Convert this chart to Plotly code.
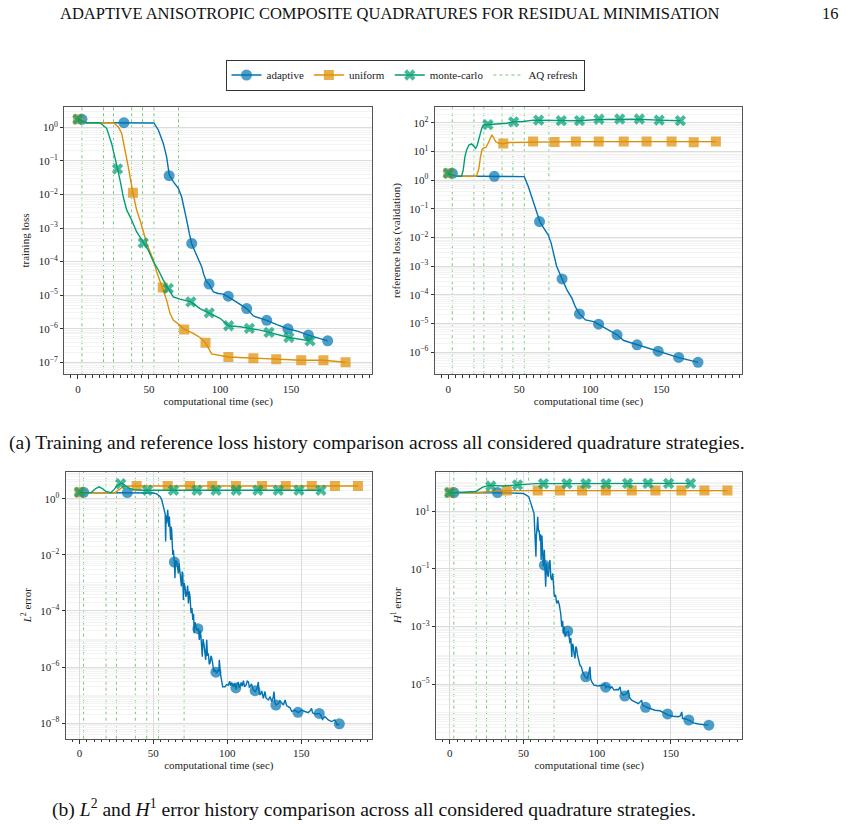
import plotly.graph_objects as go
import numpy as np

W, H = 846, 826
BLUE, ORANGE, GREEN = "#0173B2", "#DE8F05", "#029E73"
BLUE_M, ORANGE_M, GREEN_M = "rgba(1,115,178,0.7)", "rgba(222,143,5,0.72)", "rgba(2,158,115,0.72)"
REFRESH_C = "rgba(90,190,90,0.85)"
FONT = "Liberation Serif"

# ---------------- data (values stored as log10 of the plotted quantity) ----------------
aq_refresh_t = [2.8, 18.0, 25.0, 37.8, 45.5, 53.5, 70.8]

adapt_mark_t = [2.8, 32.4, 64.2, 80.1, 92.3, 105.8, 118.8, 132.9, 147.8, 162.2, 175.8]
unif_mark_t = [0.0, 38.7, 59.7, 74.8, 89.8, 105.9, 123.5, 139.6, 157.2, 172.8, 188.4]
mc_mark_t = [0.0, 27.9, 46.0, 63.6, 79.5, 92.4, 106.1, 120.7, 134.5, 148.5, 163.4]

# training loss
train_adapt_t = [0, 3, 6, 20, 40, 53.5, 56.6, 60.1, 62.4, 64.3, 67.1, 70.7, 73.0, 74.6, 76.5, 78.4, 80.0,
                 82.4, 84.7, 87.1, 88.7, 90.6, 92.3, 95.3, 98.8, 102.4, 105.9, 112, 118.8, 123.5, 132.9,
                 140, 147.7, 155, 162.2, 175.8]
train_adapt_log = [0.23, 0.19, 0.137, 0.137, 0.137, 0.13, -0.08, -0.48, -0.875, -1.42, -1.62, -1.82, -2.07,
                   -2.36, -2.76, -3.16, -3.46, -3.70, -3.90, -4.15, -4.40, -4.60, -4.67, -4.90, -4.95, -4.97,
                   -5.05, -5.22, -5.40, -5.62, -5.75, -5.88, -6.0, -6.08, -6.19, -6.36]
train_adapt_mark = [0.24, 0.137, -1.44, -3.46, -4.67, -5.03, -5.40, -5.75, -6.0, -6.19, -6.36]

train_unif_t = [0, 3, 6, 24.9, 28.4, 30.8, 33.1, 35.4, 38.7, 41.3, 43.7, 46.0, 48.4, 50.7, 53.1, 55.4, 57.7,
                59.4, 62.4, 64.8, 67.1, 70.7, 74.9, 81.2, 85.9, 89.9, 94.1, 105.9, 123.5, 139.4, 157.0, 172.5, 188.5]
train_unif_log = [0.24, 0.19, 0.137, 0.137, 0.02, -0.18, -0.63, -1.17, -1.95, -2.46, -2.76, -3.11, -3.46, -3.70,
                  -3.95, -4.30, -4.60, -4.77, -5.14, -5.54, -5.74, -5.86, -6.02, -6.14, -6.26, -6.42, -6.75,
                  -6.84, -6.88, -6.91, -6.94, -6.94, -7.0]
train_unif_mark = [0.24, -1.95, -4.77, -6.02, -6.42, -6.84, -6.88, -6.91, -6.94, -6.94, -7.0]

train_mc_t = [0, 3, 6, 15.5, 20.2, 23.7, 26.1, 27.9, 30.1, 31.9, 34.3, 37.8, 41.3, 46.0, 49.5, 53.1, 56.6,
              60.1, 63.6, 67.1, 71.8, 79.5, 85.9, 92.5, 100, 106.1, 114.1, 120.7, 128.2, 134.6, 148.5, 163.3]
train_mc_log = [0.24, 0.19, 0.137, 0.137, -0.03, -0.48, -0.97, -1.24, -1.67, -2.07, -2.46, -2.76, -3.11, -3.44,
                -3.66, -4.00, -4.25, -4.55, -4.80, -5.05, -5.12, -5.20, -5.40, -5.53, -5.69, -5.91, -5.94,
                -5.99, -6.04, -6.11, -6.26, -6.36]
train_mc_mark = [0.24, -1.24, -3.44, -4.80, -5.20, -5.53, -5.91, -5.99, -6.11, -6.26, -6.36]

# reference loss (validation)
ref_adapt_t = [0, 3, 6, 20, 40, 53.5, 56.3, 58.7, 61.1, 64.4, 67.2, 70.3, 72.4, 74.3, 76.2, 80.1, 83.6, 87.1,
               89.4, 92.3, 96.6, 102.4, 105.7, 112, 118.8, 123.5, 132.9, 140, 147.7, 155, 161.8, 175.9]
ref_adapt_log = [0.23, 0.18, 0.13, 0.13, 0.13, 0.12, -0.23, -0.58, -0.93, -1.45, -1.68, -1.91, -2.2, -2.55,
                 -3.0, -3.45, -3.84, -4.13, -4.42, -4.67, -4.88, -4.94, -5.03, -5.22, -5.40, -5.60, -5.75,
                 -5.86, -5.97, -6.08, -6.19, -6.36]
ref_adapt_mark = [0.235, 0.13, -1.45, -3.45, -4.67, -5.03, -5.40, -5.75, -5.97, -6.19, -6.36]

ref_unif_t = [0, 3, 6, 19.8, 21.5, 22.6, 23.8, 25.0, 26.5, 28.2, 29.3, 30.6, 31.6, 33.3, 35.1, 38.7, 43.4,
              52.8, 59.8, 74.4, 89.4, 105.6, 123.2, 139.6, 157, 172.5, 188.4]
ref_unif_log = [0.235, 0.17, 0.13, 0.13, 0.40, 0.80, 1.08, 1.12, 1.14, 1.30, 1.45, 1.57, 1.50, 1.34, 1.29,
                1.27, 1.31, 1.32, 1.34, 1.33, 1.34, 1.34, 1.34, 1.34, 1.34, 1.33, 1.34]
ref_unif_mark = [0.235, 1.27, 1.34, 1.33, 1.34, 1.34, 1.34, 1.34, 1.34, 1.32, 1.34]

ref_mc_t = [0, 3, 6, 9.3, 10.5, 11.7, 12.9, 14.5, 16.4, 18.1, 19.2, 20.4, 21.8, 23.5, 24.6, 27, 34.1, 41,
            45.7, 52.8, 59.8, 63.8, 79.3, 92.2, 106, 120.6, 134, 148, 163.4]
ref_mc_log = [0.235, 0.17, 0.13, 0.13, 0.355, 0.82, 1.05, 1.22, 1.26, 1.17, 1.10, 1.22, 1.51, 1.80, 1.92,
              1.93, 1.96, 1.98, 2.03, 2.04, 2.09, 2.09, 2.07, 2.07, 2.11, 2.12, 2.12, 2.09, 2.07]
ref_mc_mark = [0.235, 1.93, 2.03, 2.09, 2.07, 2.07, 2.12, 2.13, 2.13, 2.09, 2.07]

# L2 error
l2_adapt_t = [0, 3, 20, 40, 50, 52.3, 54.5, 55.7, 56.6, 57.2, 58.0, 58.3, 58.6, 59.0, 59.7, 60.1, 60.4, 60.8,
              61.3, 61.7, 62.0, 62.4, 62.8, 63.1, 63.5, 64.2, 64.6, 65.0, 65.8, 66.3, 66.9, 67.4, 68.0, 68.5,
              69.0, 69.5, 69.9, 70.3, 70.8, 71.4, 72.0, 72.6, 73.2, 73.7, 74.2, 74.8, 75.5, 76.1, 76.7, 77.2,
              77.6, 78.2, 78.9, 79.5, 80.5, 81.1, 81.7, 82.2, 83.1, 83.6, 84.3, 84.9, 85.4, 86.1, 86.6, 87.2,
              87.8, 88.3, 89.0, 89.5, 90.2, 91.0, 91.8, 92.8, 93.6, 94.3, 94.6, 95.0, 95.5, 96.9, 98.5, 99.5,
              100.8, 101.6, 102.2, 103.0, 103.6, 104.1, 105.0, 105.9, 106.7, 107.5, 108.0, 108.6, 109.4,
              110.2, 110.9, 111.7, 112.7, 113.5, 114.3, 114.9, 115.4, 116.4, 117.6, 119.0, 120.2, 121.0,
              121.5, 122.2, 123.3, 124.4, 125.5, 126.2, 127.8, 129.0, 130.0, 131.0, 131.6, 132.2, 133.0,
              134.6, 135.6, 136.8, 138.0, 139.1, 140.2, 141.3, 142.5, 143.6, 145.9, 148.0, 150.3, 152.5,
              154.8, 156.2, 157.0, 157.7, 159.3, 162.2, 163.3, 164.4, 166.0, 168.3, 170.5, 172.8, 174.4, 175.7]
l2_adapt_log = [0.22, 0.21, 0.21, 0.21, 0.20, 0.17, 0.08, -0.05, -0.25, -0.40, -0.55, -1.53, -0.6, -0.88,
                -0.40, -0.75, -1.0, -0.64, -1.1, -1.47, -1.0, -1.12, -1.6, -2.0, -1.83, -2.24, -2.83, -2.2,
                -2.24, -2.55, -2.66, -2.3, -2.54, -2.8, -3.13, -2.6, -2.66, -3.61, -3.0, -3.13, -3.5, -3.37,
                -3.1, -3.73, -3.3, -3.49, -4.08, -3.9, -4.32, -4.1, -4.79, -4.4, -4.56, -4.7, -4.62, -5.03,
                -4.7, -4.91, -5.63, -5.0, -5.21, -5.5, -5.74, -5.03, -5.6, -5.51, -5.9, -5.86, -5.6, -5.68,
                -6.0, -6.16, -6.1, -6.22, -6.1, -6.15, -5.74, -6.1, -6.28, -6.70, -6.70, -6.62, -6.64, -6.5,
                -6.66, -6.55, -6.68, -6.70, -6.58, -6.79, -6.6, -6.53, -6.72, -6.70, -6.55, -6.68, -6.48,
                -6.70, -6.64, -6.5, -6.53, -6.72, -6.70, -6.6, -6.82, -6.87, -6.75, -6.53, -6.9, -6.99,
                -6.85, -7.11, -6.87, -7.1, -7.17, -7.05, -7.23, -7.1, -6.87, -7.25, -7.35, -7.29, -7.2,
                -7.29, -7.35, -7.17, -7.38, -7.41, -7.45, -7.58, -7.54, -7.62, -7.53, -7.58, -7.62, -7.55,
                -7.47, -7.63, -7.67, -7.65, -7.72, -7.86, -7.76, -7.88, -7.94, -7.88, -8.06, -8.02]
l2_adapt_mark = [0.228, 0.216, -2.26, -4.63, -6.18, -6.74, -6.84, -7.35, -7.61, -7.65, -8.02]

l2_unif_t = [0, 3, 24, 27, 30, 38, 188.4]
l2_unif_log = [0.228, 0.21, 0.21, 0.33, 0.44, 0.45, 0.45]
l2_unif_mark = [0.228, 0.45, 0.45, 0.45, 0.45, 0.45, 0.45, 0.45, 0.45, 0.45, 0.45]

l2_mc_t = [0, 3, 8, 11, 13.3, 15.5, 17.8, 21.2, 23.5, 25.7, 28, 29.5, 31.4, 34, 37, 42, 163.4]
l2_mc_log = [0.228, 0.21, 0.22, 0.36, 0.42, 0.36, 0.26, 0.21, 0.33, 0.475, 0.55, 0.53, 0.45, 0.36, 0.32,
             0.30, 0.30]
l2_mc_mark = [0.228, 0.53, 0.30, 0.30, 0.30, 0.30, 0.30, 0.30, 0.30, 0.30, 0.30]

# H1 error
h1_adapt_t = [0, 3, 20, 40, 50, 53.6, 55.9, 57.2, 57.5, 58.2, 58.5, 58.8, 59.0, 59.7, 60.2, 60.6, 61.3, 61.7,
              62.0, 62.6, 63.1, 63.5, 64.2, 64.6, 65.1, 65.5, 65.8, 66.4, 66.9, 67.5, 68.0, 68.6, 69.2, 69.9,
              70.4, 71.0, 71.8, 72.6, 73.5, 74.4, 75.3, 76.0, 76.6, 77.1, 77.7, 78.2, 79.3, 80.5, 81.1, 81.6,
              82.2, 82.8, 83.4, 83.9, 84.5, 85.0, 85.6, 86.1, 86.7, 87.3, 88.4, 89.3, 90.2, 91.8, 93.4, 94.4,
              95.2, 95.6, 96.3, 97.9, 100.9, 102.5, 104.3, 105.2, 106.0, 107.4, 108.8, 110.0, 111.5, 113.3,
              114.5, 115.5, 116.3, 117.8, 120.0, 121.2, 121.8, 123.4, 125.7, 128.0, 129.3, 130.2, 130.8,
              132.5, 135.9, 139.3, 142.7, 146.1, 148.3, 151.7, 155.1, 156.5, 157.4, 158.0, 159.0, 162.6,
              165.3, 168.7, 172.1, 175.5]
h1_adapt_log = [1.65, 1.645, 1.64, 1.64, 1.62, 1.51, 1.16, 0.93, 0.58, -0.52, -0.58, 0.2, 0.24, 0.81, 0.3,
                0.35, -0.03, 0.2, -0.69, 0.16, -0.5, -0.92, -0.34, -0.9, -1.62, -0.9, -0.81, -1.2, -1.27, -0.9,
                -0.69, -1.3, -1.39, -1.16, -1.7, -1.97, -1.9, -2.2, -2.1, -2.26, -2.55, -3.01, -2.8, -3.24,
                -3.0, -3.36, -3.2, -3.18, -3.4, -3.59, -3.4, -4.06, -3.6, -3.71, -4.0, -4.11, -3.7, -3.76,
                -4.0, -4.17, -4.35, -4.4, -4.58, -4.75, -4.81, -4.6, -4.40, -4.8, -4.92, -5.04, -5.07, -5.05,
                -5.04, -5.0, -5.13, -5.07, -5.15, -5.1, -5.21, -5.19, -5.2, -5.10, -5.3, -5.39, -5.33, -5.21,
                -5.45, -5.56, -5.62, -5.68, -5.62, -5.56, -5.72, -5.79, -5.85, -5.91, -5.93, -6.03, -6.08,
                -6.12, -6.14, -6.1, -5.97, -6.2, -6.2, -6.26, -6.35, -6.39, -6.40, -6.43]
h1_adapt_mark = [1.65, 1.65, -0.87, -3.16, -4.75, -5.11, -5.42, -5.81, -6.04, -6.25, -6.43]

h1_unif_t = [0, 3, 18, 25, 32, 188.4]
h1_unif_log = [1.65, 1.645, 1.645, 1.68, 1.72, 1.72]
h1_unif_mark = [1.65, 1.72, 1.72, 1.72, 1.72, 1.72, 1.72, 1.72, 1.72, 1.72, 1.72]

h1_mc_t = [0, 3, 17.8, 22.4, 26.9, 30, 36, 46.3, 58.3, 80, 163.4]
h1_mc_log = [1.65, 1.645, 1.69, 1.84, 1.90, 1.89, 1.88, 1.92, 1.96, 1.96, 1.97]
h1_mc_mark = [1.65, 1.88, 1.92, 1.96, 1.96, 1.96, 1.96, 1.97, 1.97, 1.97, 1.97]

# ---------------- figure ----------------
fig = go.Figure()

def pv(v):
    return (10.0 ** np.array(v, dtype=float)).tolist()

panels = [
    ("x", "y", [(train_adapt_t, train_adapt_log, train_adapt_mark),
                (train_unif_t, train_unif_log, train_unif_mark),
                (train_mc_t, train_mc_log, train_mc_mark)]),
    ("x2", "y2", [(ref_adapt_t, ref_adapt_log, ref_adapt_mark),
                  (ref_unif_t, ref_unif_log, ref_unif_mark),
                  (ref_mc_t, ref_mc_log, ref_mc_mark)]),
    ("x3", "y3", [(l2_adapt_t, l2_adapt_log, l2_adapt_mark),
                  (l2_unif_t, l2_unif_log, l2_unif_mark),
                  (l2_mc_t, l2_mc_log, l2_mc_mark)]),
    ("x4", "y4", [(h1_adapt_t, h1_adapt_log, h1_adapt_mark),
                  (h1_unif_t, h1_unif_log, h1_unif_mark),
                  (h1_mc_t, h1_mc_log, h1_mc_mark)]),
]
styles = [(BLUE, BLUE_M, "circle", 11, adapt_mark_t),
          (ORANGE, ORANGE_M, "square", 10, unif_mark_t),
          (GREEN, GREEN_M, "x", 10, mc_mark_t)]

for xa, ya, series in panels:
    for (t, lg, mk), (lc, mc, sym, sz, mt) in zip(series, styles):
        fig.add_trace(go.Scatter(x=t, y=pv(lg), mode="lines", line=dict(color=lc, width=1.4),
                                 xaxis=xa, yaxis=ya, showlegend=False, hoverinfo="skip"))
        fig.add_trace(go.Scatter(x=mt, y=pv(mk), mode="markers",
                                 marker=dict(color=mc, symbol=sym, size=sz, line=dict(width=0)),
                                 xaxis=xa, yaxis=ya, showlegend=False, hoverinfo="skip"))
    for t in aq_refresh_t:
        fig.add_shape(type="line", xref=xa, yref=ya + " domain", x0=t, x1=t, y0=0, y1=1,
                      line=dict(color=REFRESH_C, width=1, dash="dot"), layer="below")

# legend entries
for name, (lc, mc, sym, sz, _) in zip(["adaptive", "uniform", "monte-carlo"], styles):
    fig.add_trace(go.Scatter(x=[None], y=[None], mode="lines+markers", name=name,
                             line=dict(color=lc, width=1.4),
                             marker=dict(color=mc, symbol=sym, size=sz), xaxis="x", yaxis="y"))
fig.add_trace(go.Scatter(x=[None], y=[None], mode="lines", name="AQ refresh",
                         line=dict(color=REFRESH_C, width=1, dash="dot"), xaxis="x", yaxis="y"))

def fx(p):
    return p / W

def fy(p):
    return 1 - p / H

def sup(e):
    s = str(e).replace("-", "\u2212")
    return f"10<sup>{s}</sup>"

def yaxis_cfg(dom, rng, exps, title):
    lo, hi = int(np.floor(rng[0])) - 1, int(np.ceil(rng[1])) + 1
    minor_vals = [k * 10.0 ** n for n in range(lo, hi) for k in range(1, 10)
                  if not (k == 1 and n in exps)]
    return dict(domain=dom, type="log", range=rng,
                tickmode="array", tickvals=[10.0 ** e for e in exps], ticktext=[sup(e) for e in exps],
                showgrid=True, gridcolor="#dcdcdc", gridwidth=1,
                minor=dict(tickmode="array", tickvals=minor_vals, showgrid=True,
                           gridcolor="#f3f3f3", gridwidth=0.8, ticks=""),
                ticks="outside", ticklen=3, tickwidth=1, tickcolor="#333",
                showline=True, mirror=True, linecolor="#555", linewidth=1.3,
                zeroline=False, tickfont=dict(family=FONT, size=11, color="#222"),
                title=dict(text=title, font=dict(family=FONT, size=11, color="#222"), standoff=6))

def xaxis_cfg(dom, rng, anchor, vgrid):
    return dict(domain=dom, range=rng, anchor=anchor, tickmode="array", tickvals=[0, 50, 100, 150],
                showgrid=vgrid, gridcolor="#dcdcdc", gridwidth=1,
                minor=dict(dtick=5, tick0=0, ticks="outside", ticklen=2.5, tickcolor="#333",
                           showgrid=False),
                ticks="outside", ticklen=4, tickwidth=1, tickcolor="#333",
                showline=True, mirror=True, linecolor="#555", linewidth=1.3, zeroline=False,
                tickfont=dict(family=FONT, size=11, color="#222"),
                title=dict(text="computational time (sec)", font=dict(family=FONT, size=11, color="#222"),
                           standoff=3))

top_dom = [fy(374.3), fy(106.7)]
bot_dom = [fy(738.7), fy(471.7)]

fig.update_layout(
    width=W, height=H, margin=dict(l=0, r=0, t=0, b=0),
    paper_bgcolor="white", plot_bgcolor="white",
    font=dict(family=FONT, color="#222"),
    xaxis=xaxis_cfg([fx(64.3), fx(372)], [-9.6, 207], "y", False),
    yaxis=yaxis_cfg(top_dom, [-7.357, 0.614], [0, -1, -2, -3, -4, -5, -6, -7], "training loss"),
    xaxis2=xaxis_cfg([fx(434.7), fx(742.3)], [-9.6, 207], "y2", False),
    yaxis2=dict(anchor="x2", **yaxis_cfg(top_dom, [-6.778, 2.558], [2, 1, 0, -1, -2, -3, -4, -5, -6],
                                         "reference loss (validation)")),
    xaxis3=xaxis_cfg([fx(65.7), fx(372)], [-9.3, 197.9], "y3", True),
    yaxis3=dict(anchor="x3", **yaxis_cfg(bot_dom, [-8.55, 0.96], [0, -2, -4, -6, -8],
                                         "<i>L</i><sup>2</sup> error")),
    xaxis4=xaxis_cfg([fx(436), fx(742.3)], [-9.3, 198.5], "y4", True),
    yaxis4=dict(anchor="x4", **yaxis_cfg(bot_dom, [-6.9, 2.376], [1, -1, -3, -5],
                                         "<i>H</i><sup>1</sup> error")),
    legend=dict(orientation="h", x=fx(405), xanchor="center", y=fy(75), yanchor="middle",
                bordercolor="#333", borderwidth=1, bgcolor="white",
                font=dict(family=FONT, size=11, color="#222"), itemwidth=30),
    showlegend=True,
)

annos = [
    dict(text="ADAPTIVE ANISOTROPIC COMPOSITE QUADRATURES FOR RESIDUAL MINIMISATION",
         x=fx(58), y=fy(13), xanchor="left", yanchor="middle", font=dict(size=16.5)),
    dict(text="16", x=fx(841), y=fy(13), xanchor="right", yanchor="middle", font=dict(size=16.5)),
    dict(text="(a) Training and reference loss history comparison across all considered quadrature strategies.",
         x=fx(7), y=fy(443), xanchor="left", yanchor="middle", font=dict(size=19.6)),
    dict(text="(b) <i>L</i><sup>2</sup> and <i>H</i><sup>1</sup> error history comparison across all considered quadrature strategies.",
         x=fx(50), y=fy(808), xanchor="left", yanchor="middle", font=dict(size=19.6)),
]
for a in annos:
    a.update(xref="paper", yref="paper", showarrow=False)
    a["font"].update(family=FONT, color="#111")
    fig.add_annotation(**a)

fig.write_html("out.html")
